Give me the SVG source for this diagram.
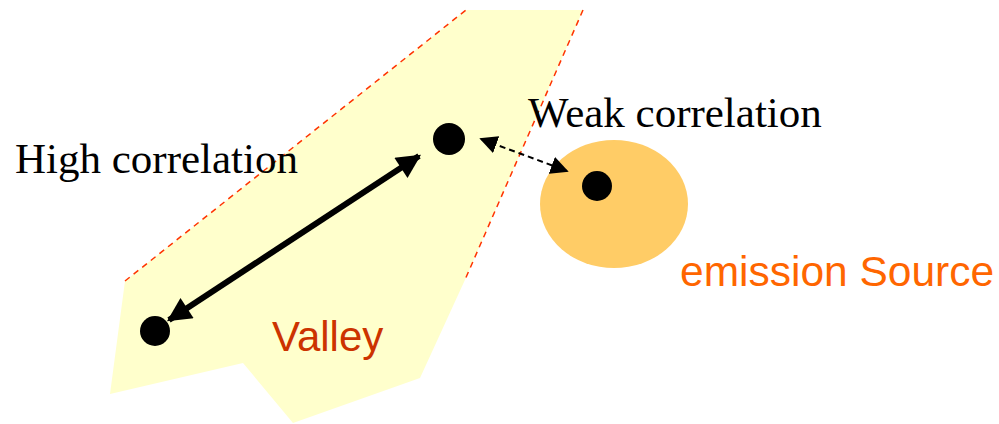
<svg xmlns="http://www.w3.org/2000/svg" width="999" height="424" viewBox="0 0 999 424">
<style>
.lbl{font-family:"Liberation Serif","Times New Roman",serif;font-size:43px;fill:#000}
.sans{font-family:"Liberation Sans",Arial,sans-serif}
.dot{fill:#000}
</style>
<defs>
<marker id="ah" viewBox="0 0 10 10" refX="9" refY="5" markerWidth="4.3" markerHeight="4" orient="auto-start-reverse" markerUnits="strokeWidth"><path d="M0,0 L10,5 L0,10 z" fill="#000"/></marker>
<marker id="ah2" viewBox="0 0 10 10" refX="9" refY="5" markerWidth="9" markerHeight="9" orient="auto-start-reverse" markerUnits="strokeWidth"><path d="M0,0 L10,5 L0,10 z" fill="#000"/></marker>
</defs>
<g id="valley">
<polygon points="466,10 583,10 464,282 420,378 293,423 243,363 110,394 125,281" fill="#FFFFCC"/>
<line x1="125" y1="281" x2="466" y2="10" stroke="#FF3300" stroke-width="1.5" stroke-dasharray="6,5"/>
<line x1="583" y1="10" x2="464" y2="282" stroke="#FF3300" stroke-width="1.5" stroke-dasharray="6,5"/>
<text class="sans" x="272" y="351" font-size="42" fill="#CC3300">Valley</text>
</g>
<g id="source">
<ellipse cx="614" cy="204" rx="74" ry="64" fill="#FFCC66"/>
<circle class="dot" cx="597" cy="186" r="15"/>
<text class="sans" x="680" y="286" font-size="42.5" fill="#FF6600">emission Source</text>
</g>
<g id="pointA"><circle class="dot" cx="449" cy="139" r="16"/></g>
<g id="pointB"><circle class="dot" cx="155" cy="331" r="15"/></g>
<g id="connectors">
<line x1="169" y1="320" x2="419" y2="156" stroke="#000" stroke-width="6" marker-start="url(#ah)" marker-end="url(#ah)"/>
<line x1="481" y1="139" x2="567" y2="171" stroke="#000" stroke-width="2" stroke-dasharray="6,4" marker-start="url(#ah2)" marker-end="url(#ah2)"/>
</g>
<text class="lbl" x="15" y="173">High correlation</text>
<text class="lbl" x="528" y="127">Weak correlation</text>
</svg>
